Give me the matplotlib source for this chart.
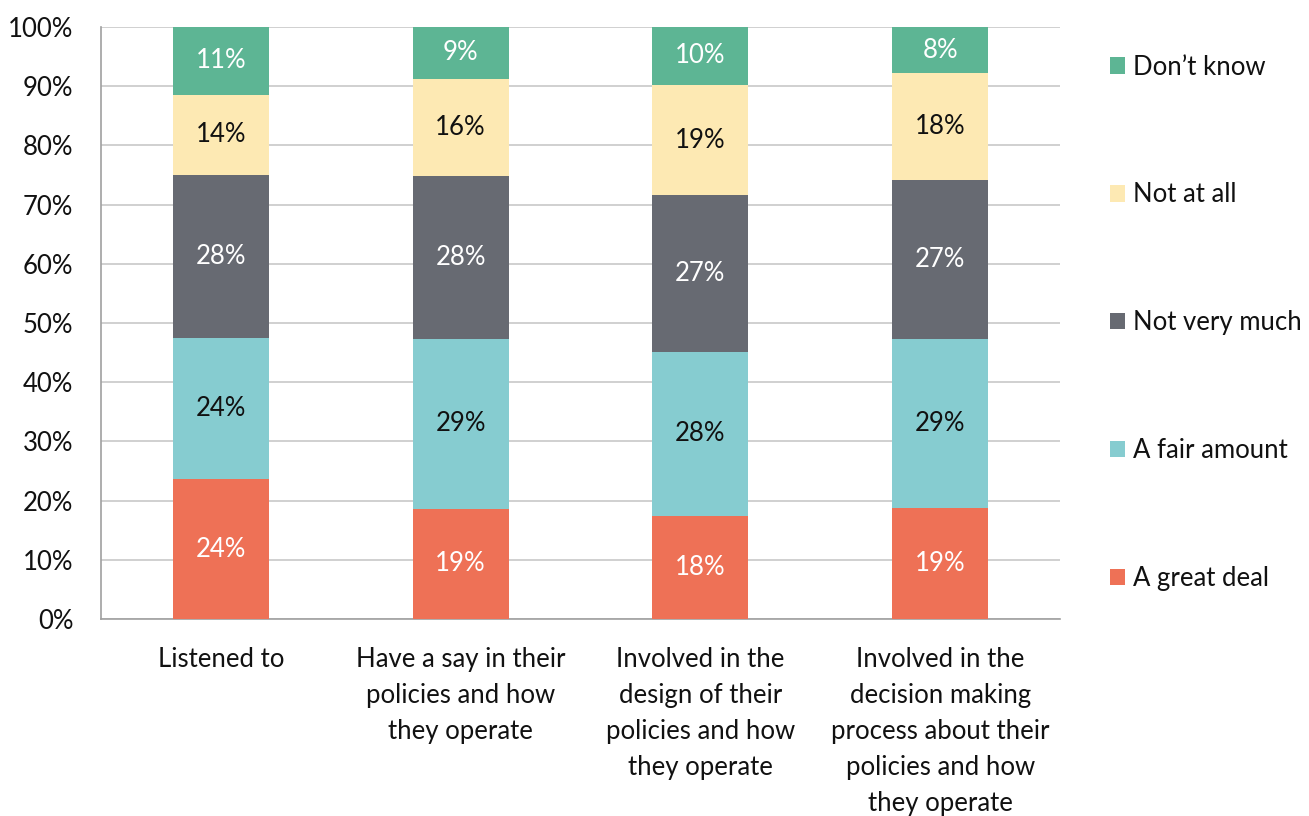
import matplotlib.pyplot as plt
import numpy as np

categories = [
    "Listened to",
    "Have a say in their\npolicies and how\nthey operate",
    "Involved in the\ndesign of their\npolicies and how\nthey operate",
    "Involved in the\ndecision making\nprocess about their\npolicies and how\nthey operate",
]
series_names = ["A great deal", "A fair amount", "Not very much", "Not at all", "Don\u2019t know"]
great_deal = [23.6, 18.6, 17.4, 18.8]
fair_amount = [23.9, 28.7, 27.7, 28.5]
not_very_much = [27.5, 27.5, 26.5, 26.9]
not_at_all = [13.5, 16.4, 18.6, 18.0]
dont_know = [11.5, 8.8, 9.8, 7.8]
labels = [
    ["24%", "19%", "18%", "19%"],
    ["24%", "29%", "28%", "29%"],
    ["28%", "28%", "27%", "27%"],
    ["14%", "16%", "19%", "18%"],
    ["11%", "9%", "10%", "8%"],
]

colors = ["#EE7156", "#86CCD0", "#676A72", "#FDE9B3", "#5DB594"]
text_colors = ["white", "#111111", "white", "#111111", "white"]

plt.rcParams["font.family"] = ["Lato", "DejaVu Sans"]
FS = 18.5

fig = plt.figure(figsize=(13.09, 8.16), dpi=100)
ax = fig.add_axes([0.0772, 0.2414, 0.7326, 0.7256])

x = np.arange(len(categories))
bottom = np.zeros(len(categories))
handles = []
for i, vals in enumerate([great_deal, fair_amount, not_very_much, not_at_all, dont_know]):
    vals = np.array(vals)
    bars = ax.bar(x, vals, 0.4, bottom=bottom, color=colors[i], label=series_names[i], zorder=3)
    handles.append(bars)
    for j, v in enumerate(vals):
        ax.text(x[j], bottom[j] + v / 2, labels[i][j], ha="center", va="center",
                fontsize=FS, color=text_colors[i], zorder=4)
    bottom += vals

ax.set_xlim(-0.5, 3.5)
ax.set_ylim(0, 100)
ax.set_yticks(range(0, 101, 10))
ax.set_yticklabels([f"{t}%" for t in range(0, 101, 10)])
ax.set_xticks(x)
ax.set_xticklabels(categories, fontsize=FS, linespacing=1.55, va="top")
ax.tick_params(axis="both", length=0, labelsize=FS, colors="#111111")
ax.tick_params(axis="x", pad=20)
ax.tick_params(axis="y", pad=20)
ax.grid(axis="y", color="#c8c8c8", linewidth=1.2, zorder=0)
for s in ["top", "right"]:
    ax.spines[s].set_visible(False)
for s in ["left", "bottom"]:
    ax.spines[s].set_color("#a0a0a0")
    ax.spines[s].set_linewidth(1.2)

leg = fig.legend(handles[::-1], series_names[::-1], loc="upper left",
                 bbox_to_anchor=(0.848, 0.933), frameon=False, fontsize=FS,
                 handlelength=0.6, handleheight=0.6, handletextpad=0.3,
                 labelspacing=4.0, borderpad=0, borderaxespad=0)
for t in leg.get_texts():
    t.set_color("#111111")

fig.savefig("out.png", dpi=100)
